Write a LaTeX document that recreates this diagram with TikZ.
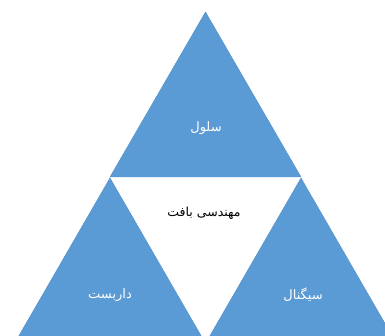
\documentclass[tikz,border=0pt]{standalone}
\usepackage{fontspec}
\newfontfamily\arabicfont[Script=Arabic]{DejaVu Sans}
\TeXXeTstate=1
\definecolor{triblue}{HTML}{5B9BD5}
\definecolor{triedge}{HTML}{5090CA}
\tikzset{
  tri/.style={fill=triblue, draw=triedge, line width=0.4pt, line join=miter},
  lbl/.style={text=white, font=\arabicfont\fontsize{13}{15}\selectfont, inner sep=0pt},
  clbl/.style={text=black, font=\arabicfont\fontsize{12.5}{15}\selectfont, inner sep=0pt}
}
\begin{document}
\begin{tikzpicture}[x=1pt,y=-1pt]
\useasboundingbox (0,0) rectangle (385,336);
\fill[white] (0,0) rectangle (385,336);
\coordinate (ta) at (205.5,12);
\coordinate (tl) at (110,177);
\coordinate (tr) at (301,177);
\coordinate (la) at (110,178);
\coordinate (ra) at (301,178);
\begin{scope}
\clip (0,0) rectangle (385,336);
\draw[tri] (ta) -- (tr) -- (tl) -- cycle;
\draw[tri] (la) -- ++(95.5,165.4) -- ++(-191,0) -- cycle;
\draw[tri] (ra) -- ++(95.5,165.4) -- ++(-191,0) -- cycle;
\end{scope}
\node[lbl] (cell) at (206,128) {\beginR سلول\endR};
\node[clbl] (tissue) at (204,213) {\beginR مهندسی بافت\endR};
\node[lbl] (scaffold) at (110,295) {\beginR داربست\endR};
\node[lbl] (signal) at (303,295) {\beginR سیگنال\endR};
\end{tikzpicture}
\end{document}
